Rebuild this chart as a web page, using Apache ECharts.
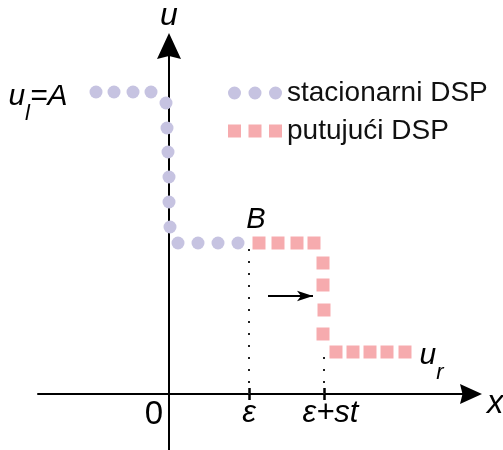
<!DOCTYPE html>
<html>
<head>
<meta charset="utf-8">
<script src="https://cdn.jsdelivr.net/npm/echarts@6/dist/echarts.min.js"></script>
<style>html,body{margin:0;padding:0;background:#fff}#c{width:503px;height:450px}</style>
</head>
<body>
<div id="c"></div>
<script>
// stationary shock profile (purple dots)
const stationaryX = [-7.3, -5.5, -3.6, -1.8, -0.3, -0.2, -0.1, 0.0, 0.0, 0.1, 0.9, 2.9, 4.9, 6.9];
const stationaryU = [30.2, 30.2, 30.2, 30.2, 29.1, 26.6, 24.2, 21.7, 19.2, 16.7, 15.1, 15.1, 15.1, 15.1];
// travelling shock profile (pink squares)
const travellingX = [9.0, 10.9, 12.8, 14.5, 15.4, 15.4, 15.5, 15.4, 16.7, 18.4, 20.1, 21.8, 23.6];
const travellingU = [15.1, 15.1, 15.1, 15.1, 13.1, 10.9, 8.4, 6.0, 4.2, 4.2, 4.2, 4.2, 4.2];
// x-axis ticks
const tickValues = [8, 15.5];
const tickLabels = ['ε', 'ε+st'];
const zeroLabel = '0';
// dotted guides from profile corners down to the axis
const guideEps = [[8, 14.5], [8, 0]];
const guideEpsSt = [[15.5, 3.7], [15.5, 0]];
// motion arrow
const motionArrow = [[9.9, 9.8], [14.4, 9.8]];
const seriesNames = ['stacionarni DSP', 'putujući DSP'];

const FONT = 'Liberation Sans';
const INK = '#000';
const purple = '#c6c3e1';
const pink = '#f6abae';

const subRich = {
  u: { fontFamily: FONT, fontStyle: 'italic', fontSize: 30, color: INK, textBorderWidth: 0 },
  s: { fontFamily: FONT, fontStyle: 'italic', fontSize: 22, color: INK, textBorderWidth: 0, padding: [34, 0, 0, 0] }
};

const stationaryData = stationaryX.map((x, i) => {
  const d = { value: [x, stationaryU[i]] };
  if (i === 0) {
    d.label = { show: true, position: 'left', distance: 22, offset: [0, 5], color: INK, textBorderWidth: 0,
      formatter: '{u|u}{s|l}{u|=A}', rich: subRich };
  }
  return d;
});
const travellingData = travellingX.map((x, i) => {
  const d = { value: [x, travellingU[i]] };
  if (i === 0) {
    d.label = { show: true, position: 'top', distance: 2, offset: [-3, 0], formatter: 'B',
      fontFamily: FONT, fontStyle: 'italic', fontSize: 29, color: INK, textBorderWidth: 0 };
  }
  if (i === travellingX.length - 1) {
    d.label = { show: true, position: 'right', distance: 8, offset: [0, 4], color: INK, textBorderWidth: 0,
      formatter: '{u|u}{s|r}', rich: subRich };
  }
  return d;
});

const allLabels = [0].concat(tickValues);
const X_MIN = -13.1, X_MAX = 30.2, Y_MIN = -5.6, Y_MAX = 34.8;
const GRID = { left: 38, right: 32, top: 46, bottom: 0 };
const gridH = 450 - GRID.top - GRID.bottom;
const chart = echarts.init(document.getElementById('c'), null, { renderer: 'canvas' });
const tickStyle = { color: INK, width: 2.5 };
chart.setOption({
  animation: false,
  backgroundColor: '#fff',
  grid: { left: GRID.left, right: GRID.right, top: GRID.top, bottom: GRID.bottom, containLabel: false, outerBoundsMode: 'none' },
  legend: {
    orient: 'vertical', left: 228, top: 79, padding: 0, itemWidth: 54, itemHeight: 13, itemGap: 10,
    textStyle: { fontFamily: FONT, fontSize: 28, color: '#111', lineHeight: 27 },
    data: [
      { name: seriesNames[0], icon: 'path://M0,6.5a6.5,6.5 0 1,0 13,0a6.5,6.5 0 1,0 -13,0M20.5,6.5a6.5,6.5 0 1,0 13,0a6.5,6.5 0 1,0 -13,0M41,6.5a6.5,6.5 0 1,0 13,0a6.5,6.5 0 1,0 -13,0Z' },
      { name: seriesNames[1], icon: 'path://M0,0h13v13h-13zM20.5,0h13v13h-13zM41,0h13v13h-13z' }
    ]
  },
  xAxis: [{
    // main x axis line with arrow, on u = 0
    type: 'value', min: X_MIN, max: X_MAX, position: 'bottom',
    name: 'x', nameLocation: 'end', nameGap: 16,
    nameTextStyle: { fontFamily: FONT, fontStyle: 'italic', fontSize: 33, color: INK, verticalAlign: 'top', lineHeight: 20 },
    axisLine: { show: true, onZero: true, symbol: ['none', 'path://M10,0L20,22L10,19.5L0,22Z'], symbolSize: [20, 22],
      lineStyle: { color: INK, width: 2 } },
    axisTick: { show: false },
    axisLabel: { show: false },
    splitLine: { show: false }
  }, {
    // lower tick halves + labels, moved up from the grid bottom onto u = 0
    type: 'value', min: X_MIN, max: X_MAX, position: 'bottom',
    offset: -(gridH * (0 - Y_MIN) / (Y_MAX - Y_MIN)),
    axisLine: { show: false, onZero: false },
    axisTick: { show: true, customValues: tickValues, length: 6, lineStyle: tickStyle },
    axisLabel: {
      show: true, customValues: allLabels, margin: 4, hideOverlap: false,
      formatter: function (v) {
        if (v === 0) return '{z|' + zeroLabel + '}';
        const k = tickValues.indexOf(v);
        return (k === 0 ? '{i|' : '{j|') + tickLabels[k] + '}';
      },
      rich: {
        z: { fontFamily: FONT, fontSize: 33, color: INK, padding: [0, 30, 0, 0] },
        i: { fontFamily: FONT, fontStyle: 'italic', fontSize: 31, color: INK },
        j: { fontFamily: FONT, fontStyle: 'italic', fontSize: 31, color: INK, padding: [0, 0, 0, 13] }
      }
    },
    splitLine: { show: false }
  }, {
    // upper tick halves, moved down from the grid top onto u = 0
    type: 'value', min: X_MIN, max: X_MAX, position: 'top',
    offset: -(gridH * Y_MAX / (Y_MAX - Y_MIN)),
    axisLine: { show: false, onZero: false },
    axisTick: { show: true, customValues: tickValues, length: 6, lineStyle: tickStyle },
    axisLabel: { show: false },
    splitLine: { show: false }
  }],
  yAxis: {
    type: 'value', min: Y_MIN, max: Y_MAX,
    name: 'u', nameLocation: 'end', nameGap: 14,
    nameTextStyle: { fontFamily: FONT, fontStyle: 'italic', fontSize: 32, color: INK, align: 'center' },
    axisLine: { show: true, onZero: true, symbol: ['none', 'path://M12,0L24,26L12,23L0,26Z'], symbolSize: [24, 26],
      lineStyle: { color: INK, width: 2 } },
    axisTick: { show: false },
    axisLabel: { show: false },
    splitLine: { show: false }
  },
  series: [
    {
      type: 'line', name: 'guideEps', data: guideEps, showSymbol: false, silent: true,
      lineStyle: { color: '#222', width: 2, type: [2, 10] },
      markLine: {
        silent: true, symbol: ['none', 'arrow'], symbolSize: [8, 16],
        label: { show: false },
        lineStyle: { color: INK, width: 2, type: 'solid' },
        data: [[{ coord: motionArrow[0] }, { coord: motionArrow[1] }]]
      }
    },
    {
      type: 'line', name: 'guideEpsSt', data: guideEpsSt, showSymbol: false, silent: true,
      lineStyle: { color: '#222', width: 2, type: [2, 10] }
    },
    {
      type: 'scatter', name: seriesNames[0], data: stationaryData, symbol: 'circle', symbolSize: 13,
      itemStyle: { color: purple, opacity: 1 }, z: 3
    },
    {
      type: 'scatter', name: seriesNames[1], data: travellingData, symbol: 'rect', symbolSize: 13,
      itemStyle: { color: pink, opacity: 1 }, z: 3
    }
  ]
});
</script>
</body>
</html>
